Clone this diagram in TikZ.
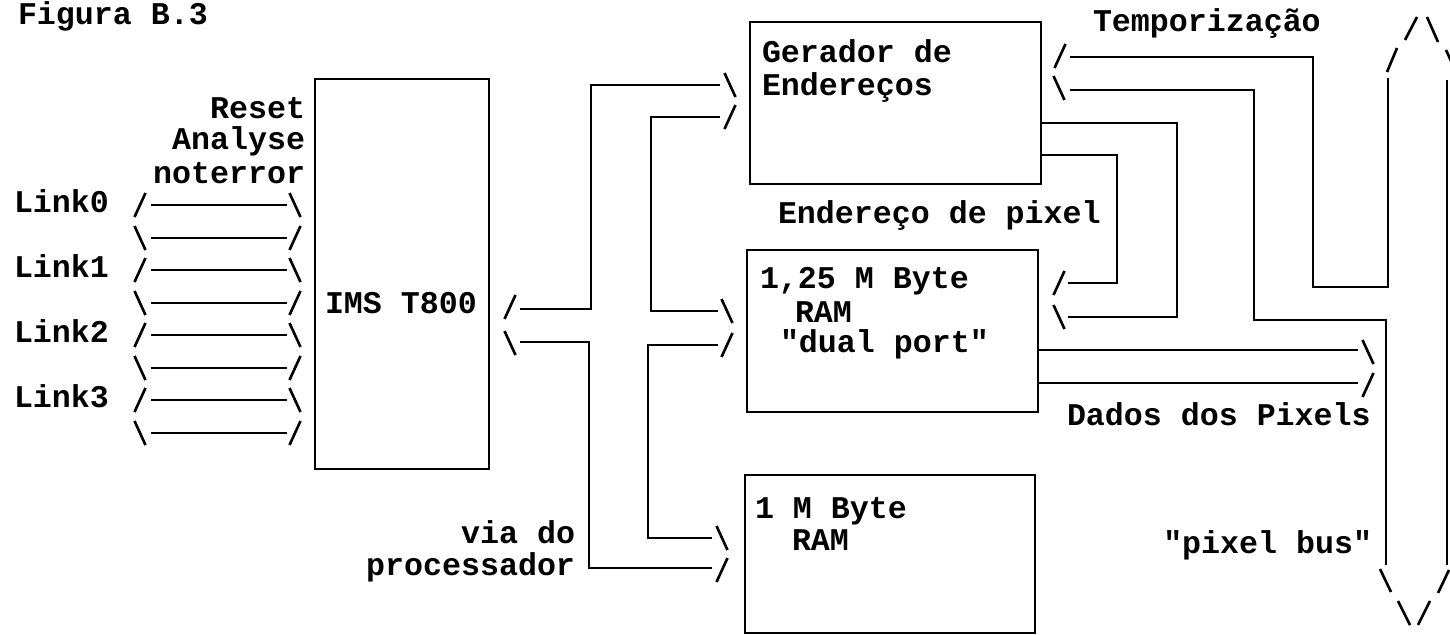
\documentclass[tikz,border=0pt]{standalone}
\usepackage{fontspec}
\setmonofont{Liberation Mono}
\usepackage{tikz}
\usetikzlibrary{positioning,calc}

\begin{document}
\begin{tikzpicture}[
  x=0.02cm, y=-0.02cm,
  blk/.style={draw, line width=1.3pt, inner sep=0pt, outer sep=0pt, anchor=north west},
  txt/.style={font=\ttfamily\bfseries\fontsize{18}{19}\selectfont, inner sep=0pt, outer sep=0pt},
  bus/.style={line width=1.2pt},
  dsh/.style={line width=1.5pt},
  fs/.pic={\draw[dsh] (-5.5,12) -- (5.5,-12);},
  bs/.pic={\draw[dsh] (-5.5,-12) -- (5.5,12);}
]
  \fill[white] (0,0) rectangle (1450,635);
  \useasboundingbox (0,0) rectangle (1450,635);

  % blocks
  \node[blk, minimum width=3.48cm, minimum height=7.8cm] (ims) at (315,79) {};
  \node[blk, minimum width=5.82cm, minimum height=3.24cm] (gen) at (750,22) {};
  \node[blk, minimum width=5.82cm, minimum height=3.24cm] (dpram) at (747,250) {};
  \node[blk, minimum width=5.8cm, minimum height=3.16cm] (ram) at (745,475) {};

  % texts
  \node[txt, anchor=base west] (fig) at (18,25) {Figura B.3};
  \node[txt, anchor=base east] (reset) at (305,118) {Reset};
  \node[txt, anchor=base east] (analyse) at (305,150) {Analyse};
  \node[txt, anchor=base east] (noterror) at (305,183) {noterror};
  \node[txt, anchor=base west] (imslbl) at (325,313) {IMS T800};
  \node[txt, anchor=base east] (via) at (575,543) {via do};
  \node[txt, anchor=base east] (proc) at (575,575) {processador};
  \node[txt, anchor=base west] (gen1) at (762,63) {Gerador de};
  \node[txt, anchor=base west] (gen2) at (762,95) {Endereços};
  \node[txt, anchor=base west] (endpix) at (778,223) {Endereço de pixel};
  \node[txt, anchor=base west] (temp) at (1093,32) {Temporização};
  \node[txt, anchor=base west] (dp1) at (760,288) {1,25 M Byte};
  \node[txt, anchor=base west] (dp2) at (795,322) {RAM};
  \node[txt, anchor=base west] (dp3) at (780,352) {"dual port"};
  \node[txt, anchor=base west] (ram1) at (755,518) {1 M Byte};
  \node[txt, anchor=base west] (ram2) at (792,550) {RAM};
  \node[txt, anchor=base west] (dados) at (1067,425) {Dados dos Pixels};
  \node[txt, anchor=base east] (pbus) at (1372,553) {"pixel bus"};

  % links into the transputer
  \foreach \i in {0,...,3} {
    \node[txt, anchor=base west] (lk\i) at (14,212+65*\i) {Link\i};
    \draw[bus] (151,205+65*\i) -- (287,205+65*\i);
    \draw[bus] (151,238+65*\i) -- (287,238+65*\i);
    \pic at (140,205+65*\i) {fs}; \pic at (295,205+65*\i) {bs};
    \pic at (140,238+65*\i) {bs}; \pic at (295,238+65*\i) {fs};
  }

  % processor bus
  \draw[bus] (520,309) -| (591,85) -- (720,85);
  \draw[bus] (520,342) -| (589,568) -- (712,568);
  \draw[bus] (720,117) -| (651,311) -- (718,311);
  \draw[bus] (718,345) -| (648,538) -- (712,538);
  \pic at (510,307) {fs}; \pic at (510,343) {bs};
  \pic at (730,85) {bs}; \pic at (730,117) {fs};
  \pic at (727,311) {bs}; \pic at (727,345) {fs};
  \pic at (722,538) {bs}; \pic at (722,570) {fs};

  % pixel address
  \draw[bus] (gen.east |- 0,123) -| (1177,317) -- (1068,317);
  \draw[bus] (gen.east |- 0,155) -| (1117,283) -- (1068,283);
  \pic at (1059,283) {fs}; \pic at (1059,317) {bs};

  % timing and pixel data
  \draw[bus] (1070,57) -| (1313,287) -| (1388,78);
  \draw[bus] (1070,90) -| (1254,320) -| (1386,565);
  \pic at (1060,56) {fs}; \pic at (1059,88) {bs};
  \draw[bus] (dpram.east |- 0,350) -- (1358,350);
  \draw[bus] (dpram.east |- 0,383) -- (1358,383);
  \pic at (1368,352) {bs}; \pic at (1368,385) {fs};

  % pixel bus
  \draw[bus] (1447,80) -- (1447,565);
  \draw[dsh] (1387,72) -- (1397,48) (1405,40) -- (1417,17)
             (1427,17) -- (1438,42) (1446,50) -- (1457,74);
  \draw[dsh] (1380,569) -- (1391,592) (1398,601) -- (1410,625)
             (1449,570) -- (1438,593) (1430,601) -- (1418,625);
\end{tikzpicture}
\end{document}
